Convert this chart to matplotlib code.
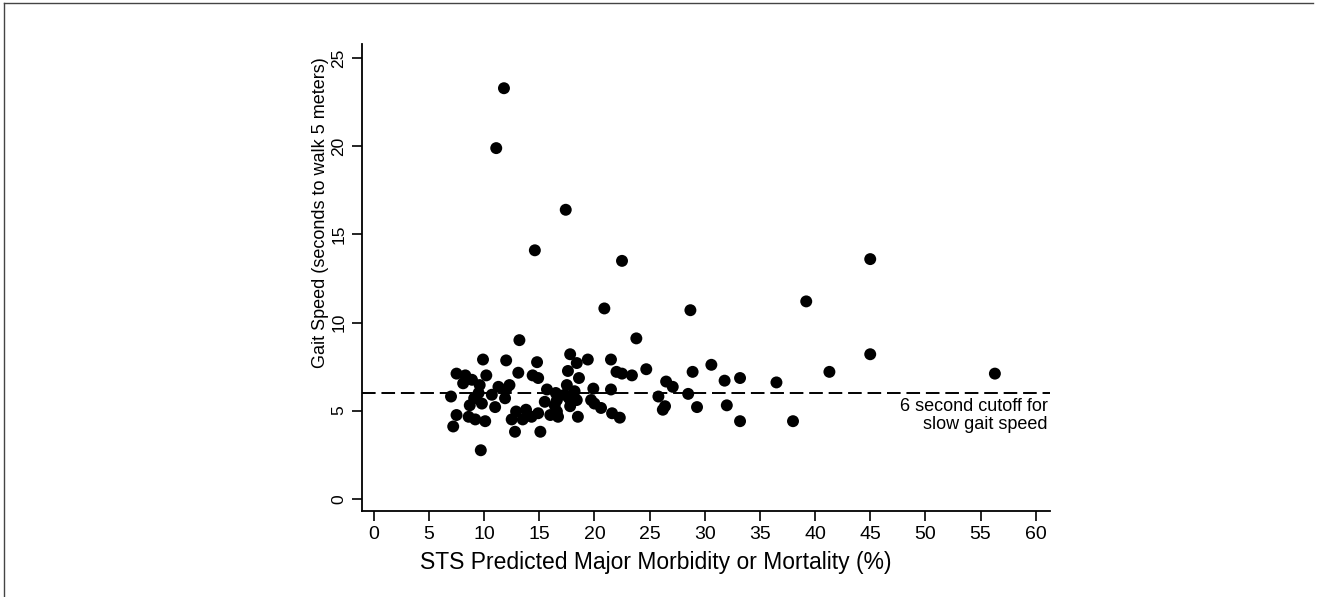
import matplotlib
matplotlib.use("Agg")
import matplotlib.pyplot as plt
from matplotlib.lines import Line2D

plt.rcParams['font.family'] = ['Liberation Sans', 'DejaVu Sans']

# STS predicted major morbidity or mortality (%) vs gait speed (s / 5 m)
sts_risk = [
    # outliers / upper points
    11.8, 11.1, 17.4, 14.6, 22.5, 45.0, 39.2, 20.9, 28.7, 23.8, 13.2, 45.0, 56.3, 41.3,
    # left group 7-13
    7.5, 8.3, 8.9, 9.9, 10.2, 9.6, 11.3, 12.3, 12.0, 8.1, 7.0, 9.5, 10.7, 11.9,
    8.7, 9.8, 11.0, 7.5, 8.6, 10.1, 9.2, 7.2, 9.7, 9.1,
    # middle group 12-17
    12.0, 13.1, 14.4, 14.9, 14.8, 15.7, 16.5, 17.3, 15.5, 16.4, 12.9, 13.8,
    14.9, 13.5, 14.3, 16.0, 16.7, 12.5, 12.8, 15.1,
    # group 17-25
    17.8, 19.4, 18.4, 21.5, 24.7, 17.6, 22.0, 22.5, 23.4, 18.6, 17.5, 19.9,
    21.5, 18.2, 16.6, 17.7, 18.4, 19.7, 20.0, 20.6, 17.8, 16.6, 21.6, 22.3, 18.5,
    # right group 25-40
    25.8, 26.2, 26.5, 27.1, 30.6, 28.9, 31.8, 33.2, 36.5, 28.5, 26.4, 29.3,
    32.0, 33.2, 38.0,
]
gait_time = [
    23.3, 19.9, 16.4, 14.1, 13.5, 13.6, 11.2, 10.8, 10.7, 9.1, 9.0, 8.2, 7.1, 7.2,
    7.1, 7.0, 6.75, 7.9, 7.0, 6.45, 6.35, 6.45, 6.2, 6.55, 5.8, 6.0, 5.9, 5.7,
    5.3, 5.4, 5.2, 4.75, 4.65, 4.4, 4.5, 4.1, 2.75, 5.7,
    7.85, 7.15, 7.0, 6.85, 7.75, 6.2, 6.0, 5.9, 5.5, 5.3, 4.95, 5.05,
    4.85, 4.5, 4.65, 4.75, 4.65, 4.5, 3.8, 3.8,
    8.2, 7.9, 7.7, 7.9, 7.35, 7.25, 7.2, 7.1, 7.0, 6.85, 6.45, 6.25,
    6.2, 6.1, 5.6, 5.7, 5.6, 5.6, 5.4, 5.15, 5.25, 4.95, 4.85, 4.6, 4.65,
    5.8, 5.05, 6.65, 6.35, 7.6, 7.2, 6.7, 6.85, 6.6, 5.95, 5.25, 5.2,
    5.3, 4.4, 4.4,
]

cutoff = 6
x_ticks = list(range(0, 61, 5))
y_ticks = list(range(0, 26, 5))

fig = plt.figure(figsize=(13.17, 5.97), dpi=100)
ax = fig.add_axes([0.2746, 0.144, 0.5227, 0.782])

ax.scatter(sts_risk, gait_time, s=74, color='black', edgecolors='none', zorder=3)
ax.axhline(cutoff, color='black', linestyle=(0, (7, 3)), linewidth=1.4, zorder=2)
ax.text(61.1, 5.72, '6 second cutoff for\nslow gait speed', ha='right', va='top',
        fontsize=13, linespacing=1.1)

ax.set_xlim(-1.1, 61.3)
ax.set_ylim(-0.7, 25.8)
ax.set_xticks(x_ticks)
ax.set_yticks(y_ticks)
ax.tick_params(axis='both', direction='out', length=7, width=1.2, pad=4)
ax.tick_params(axis='x', labelsize=14)
ax.tick_params(axis='y', labelsize=12.5)
for lbl in ax.get_yticklabels():
    lbl.set_rotation(90)
    lbl.set_va('center')
ax.spines['top'].set_visible(False)
ax.spines['right'].set_visible(False)
ax.spines['left'].set_linewidth(1.3)
ax.spines['bottom'].set_linewidth(1.3)

ax.set_xlabel('STS Predicted Major Morbidity or Mortality (%)', fontsize=16.5, labelpad=6)
ax.xaxis.set_label_coords(0.4276, -0.085)
ax.set_ylabel('Gait Speed (seconds to walk 5 meters)', fontsize=13, labelpad=2)
ax.yaxis.set_label_coords(-0.047, 0.64)

# scanned page frame
fig.add_artist(Line2D([0.003, 0.997], [0.995, 0.995], color='#444444', linewidth=1))
fig.add_artist(Line2D([0.003, 0.003], [0.0, 0.995], color='#444444', linewidth=1))

fig.savefig('out.png', dpi=100)
